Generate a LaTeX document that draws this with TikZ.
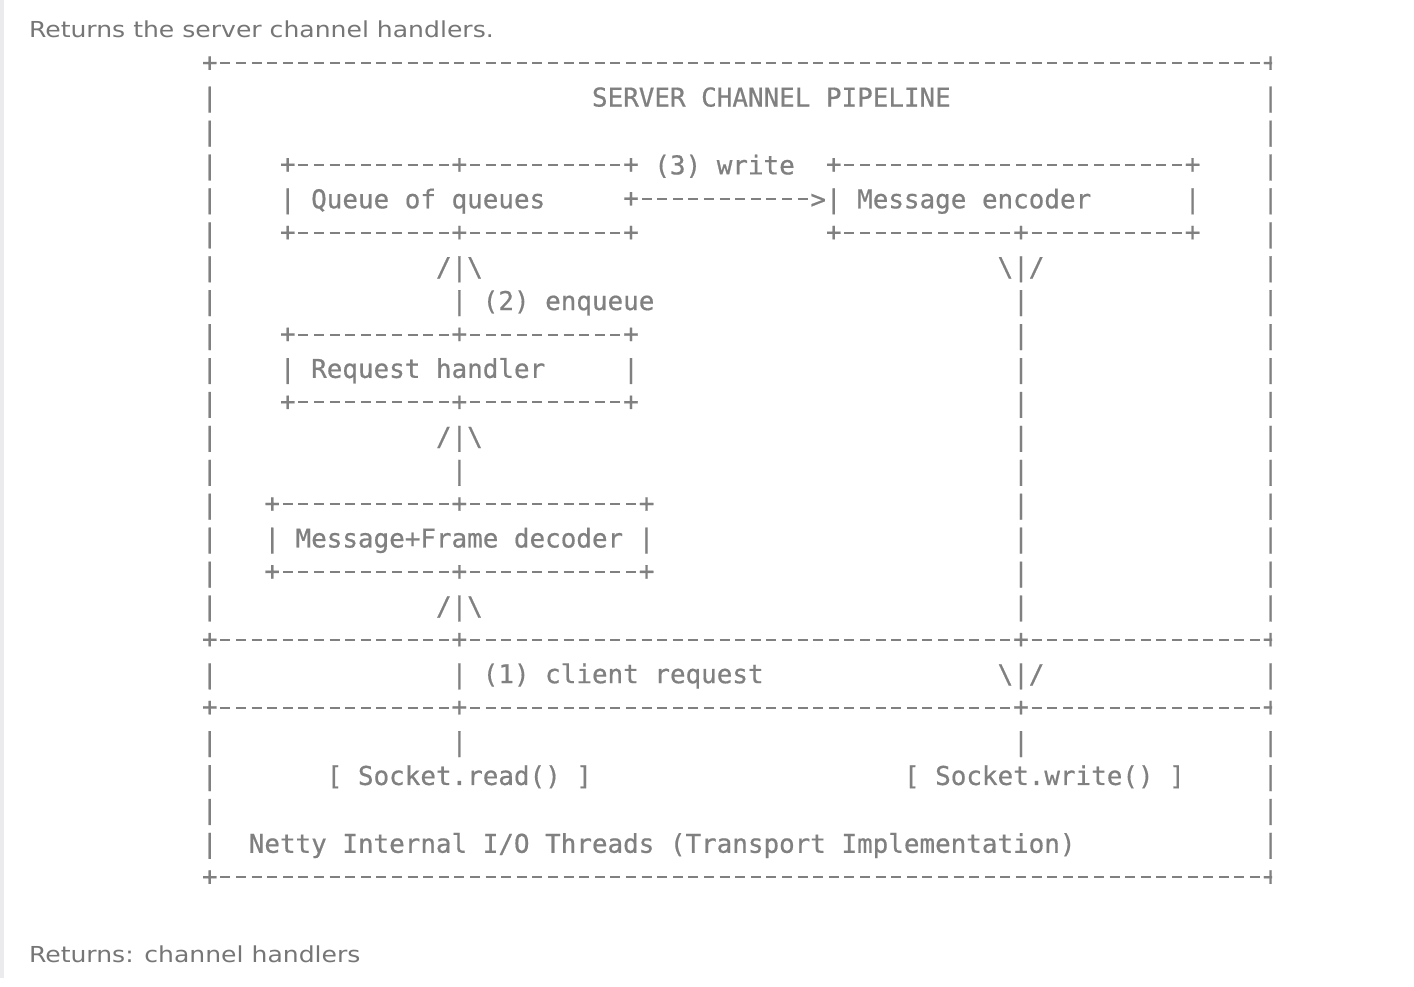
\documentclass[tikz,border=0pt]{standalone}
\usepackage{fontspec}
\usepackage{graphicx}
\newfontfamily\ascfam{DejaVu Sans Mono}[Ligatures=TeXOff,FakeBold=0.6]
\newfontfamily\hdrfam{DejaVu Sans}
\newcommand\OneDash{\hbox to 15.6pt{\hss\rule[8.4pt]{10pt}{2pt}\hss}}
\ExplSyntaxOn
\cs_new:Npn \Dsh #1 {\prg_replicate:nn{#1}{\OneDash}}
\ExplSyntaxOff
\newcommand\Pl{\raisebox{1.4pt}{+}}
\newcommand\bs{\textbackslash}
\newcommand\ascfont{\ascfam\fontsize{25.91pt}{31pt}\selectfont}
\newcommand\hdrfont{\hdrfam\fontsize{22pt}{26pt}\selectfont}
\definecolor{asccol}{RGB}{128,128,128}
\definecolor{hdrcol}{RGB}{118,118,118}
\definecolor{barcol}{RGB}{235,235,238}
\tikzset{
  asc/.style={anchor=base west, inner sep=0pt, outer sep=0pt, font=\ascfont, text=asccol},
  hdr/.style={anchor=base west, inner sep=0pt, outer sep=0pt, font=\hdrfont, text=hdrcol}
}
\newcommand\Tl[4]{\node[asc] (#1) at ({202+#3*15.6},{72.6+#2*33.92}) {#4};}
\begin{document}
\begin{tikzpicture}[x=1pt,y=-1pt]
\useasboundingbox (0,0) rectangle (1414,986);
\fill[white] (0,0) rectangle (1414,986);
\fill[barcol] (0,0) rectangle (4,978);
\node[hdr] (top) at (29,37.7) {\scalebox{1.14}[1]{Returns the server channel handlers.}};
\node[hdr] (bot) at (29,962) {\scalebox{1.14}[1]{Returns: channel handlers}};
\begin{scope}
\clip (0,0) rectangle (1272,986);
\Tl{r0}{0}{0}{\Pl\Dsh{67}\Pl}
\Tl{r1a}{1}{0}{|} \Tl{r1b}{1}{25}{SERVER CHANNEL PIPELINE} \Tl{r1c}{1}{68}{|}
\Tl{r2a}{2}{0}{|} \Tl{r2c}{2}{68}{|}
\Tl{r3a}{3}{0}{|} \Tl{r3b}{3}{5}{\Pl\Dsh{10}\Pl\Dsh{10}\Pl{} (3) write} \Tl{r3d}{3}{40}{\Pl\Dsh{22}\Pl} \Tl{r3c}{3}{68}{|}
\Tl{r4a}{4}{0}{|} \Tl{r4b}{4}{5}{| Queue of queues} \Tl{r4d}{4}{27}{\Pl\Dsh{11}>| Message encoder} \Tl{r4e}{4}{63}{|} \Tl{r4c}{4}{68}{|}
\Tl{r5a}{5}{0}{|} \Tl{r5b}{5}{5}{\Pl\Dsh{10}\Pl\Dsh{10}\Pl} \Tl{r5d}{5}{40}{\Pl\Dsh{11}\Pl\Dsh{10}\Pl} \Tl{r5c}{5}{68}{|}
\Tl{r6a}{6}{0}{|} \Tl{r6b}{6}{15}{/|\bs} \Tl{r6d}{6}{51}{\bs|/} \Tl{r6c}{6}{68}{|}
\Tl{r7a}{7}{0}{|} \Tl{r7b}{7}{16}{| (2) enqueue} \Tl{r7d}{7}{52}{|} \Tl{r7c}{7}{68}{|}
\Tl{r8a}{8}{0}{|} \Tl{r8b}{8}{5}{\Pl\Dsh{10}\Pl\Dsh{10}\Pl} \Tl{r8d}{8}{52}{|} \Tl{r8c}{8}{68}{|}
\Tl{r9a}{9}{0}{|} \Tl{r9b}{9}{5}{| Request handler} \Tl{r9e}{9}{27}{|} \Tl{r9d}{9}{52}{|} \Tl{r9c}{9}{68}{|}
\Tl{r10a}{10}{0}{|} \Tl{r10b}{10}{5}{\Pl\Dsh{10}\Pl\Dsh{10}\Pl} \Tl{r10d}{10}{52}{|} \Tl{r10c}{10}{68}{|}
\Tl{r11a}{11}{0}{|} \Tl{r11b}{11}{15}{/|\bs} \Tl{r11d}{11}{52}{|} \Tl{r11c}{11}{68}{|}
\Tl{r12a}{12}{0}{|} \Tl{r12b}{12}{16}{|} \Tl{r12d}{12}{52}{|} \Tl{r12c}{12}{68}{|}
\Tl{r13a}{13}{0}{|} \Tl{r13b}{13}{4}{\Pl\Dsh{11}\Pl\Dsh{11}\Pl} \Tl{r13d}{13}{52}{|} \Tl{r13c}{13}{68}{|}
\Tl{r14a}{14}{0}{|} \Tl{r14b}{14}{4}{| Message+Frame decoder |} \Tl{r14d}{14}{52}{|} \Tl{r14c}{14}{68}{|}
\Tl{r15a}{15}{0}{|} \Tl{r15b}{15}{4}{\Pl\Dsh{11}\Pl\Dsh{11}\Pl} \Tl{r15d}{15}{52}{|} \Tl{r15c}{15}{68}{|}
\Tl{r16a}{16}{0}{|} \Tl{r16b}{16}{15}{/|\bs} \Tl{r16d}{16}{52}{|} \Tl{r16c}{16}{68}{|}
\Tl{r17}{17}{0}{\Pl\Dsh{15}\Pl\Dsh{35}\Pl\Dsh{15}\Pl}
\Tl{r18a}{18}{0}{|} \Tl{r18b}{18}{16}{| (1) client request} \Tl{r18d}{18}{51}{\bs|/} \Tl{r18c}{18}{68}{|}
\Tl{r19}{19}{0}{\Pl\Dsh{15}\Pl\Dsh{35}\Pl\Dsh{15}\Pl}
\Tl{r20a}{20}{0}{|} \Tl{r20b}{20}{16}{|} \Tl{r20d}{20}{52}{|} \Tl{r20c}{20}{68}{|}
\Tl{r21a}{21}{0}{|} \Tl{r21b}{21}{8}{[ Socket.read() ]} \Tl{r21d}{21}{45}{[ Socket.write() ]} \Tl{r21c}{21}{68}{|}
\Tl{r22a}{22}{0}{|} \Tl{r22c}{22}{68}{|}
\Tl{r23a}{23}{0}{|} \Tl{r23b}{23}{3}{Netty Internal I/O Threads (Transport Implementation)} \Tl{r23c}{23}{68}{|}
\Tl{r24}{24}{0}{\Pl\Dsh{67}\Pl}
\end{scope}
\end{tikzpicture}
\end{document}
